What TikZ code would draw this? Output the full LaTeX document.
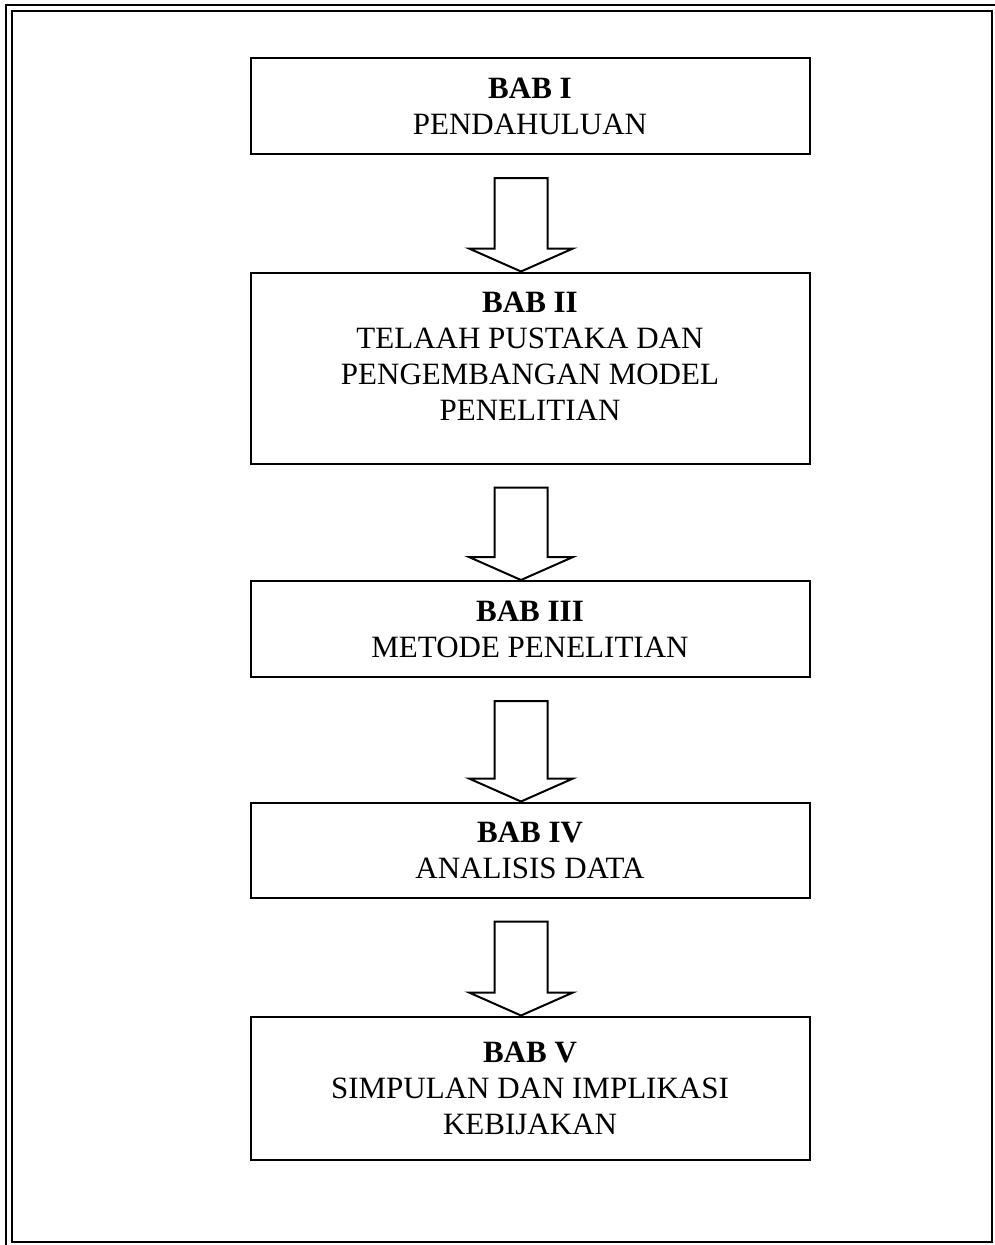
\documentclass[tikz,border=0pt]{standalone}
\usepackage{fontspec}
\setmainfont{Liberation Serif}
\begin{document}
\begin{tikzpicture}[x=1pt,y=-1pt]
		% gaya
		\tikzset{bab/.style={rectangle,draw,line width=2pt,minimum width=559pt,inner sep=0pt,align=center,font=\fontsize{31}{36}\selectfont}}
		\tikzset{panah/.style={draw,line width=2pt,line join=miter,fill=white}}
		\useasboundingbox (0,0) rectangle (995,1245);
		% bingkai
		\draw[line width=2pt] (12,11) rectangle (992,1242);
		\draw[line width=2pt] (6,1245) -- (6,5) -- (995,5);
		% kotak bab
		\node[bab,minimum height=96pt] (bab1) at (530,106) {\textbf{BAB I}\\PENDAHULUAN};
		\node[bab,minimum height=191pt] (bab2) at (530,368) {\textbf{BAB II}\\TELAAH PUSTAKA DAN\\PENGEMBANGAN MODEL\\PENELITIAN\\[-13pt]\mbox{}};
		\node[bab,minimum height=96pt] (bab3) at (530,629) {\textbf{BAB III}\\METODE PENELITIAN};
		\node[bab,minimum height=95pt] (bab4) at (530,850) {\textbf{BAB IV}\\ANALISIS DATA};
		\node[bab,minimum height=143pt] (bab5) at (530,1088) {\textbf{BAB V}\\SIMPULAN DAN IMPLIKASI\\KEBIJAKAN};
		% panah
		\draw[panah] ([xshift=-9pt]bab2.north) -- ++(-52,-23) -- ++(25.5,0) -- ([xshift=-35.5pt,yshift=-23pt]bab1.south) -- ++(53,0) -- ([xshift=17.5pt,yshift=23pt]bab2.north) -- ++(25.5,0) -- cycle;
		\draw[panah] ([xshift=-9pt]bab3.north) -- ++(-52,-23) -- ++(25.5,0) -- ([xshift=-35.5pt,yshift=-23pt]bab2.south) -- ++(53,0) -- ([xshift=17.5pt,yshift=23pt]bab3.north) -- ++(25.5,0) -- cycle;
		\draw[panah] ([xshift=-9pt]bab4.north) -- ++(-52,-23) -- ++(25.5,0) -- ([xshift=-35.5pt,yshift=-23pt]bab3.south) -- ++(53,0) -- ([xshift=17.5pt,yshift=23pt]bab4.north) -- ++(25.5,0) -- cycle;
		\draw[panah] ([xshift=-9pt]bab5.north) -- ++(-52,-23) -- ++(25.5,0) -- ([xshift=-35.5pt,yshift=-23pt]bab4.south) -- ++(53,0) -- ([xshift=17.5pt,yshift=23pt]bab5.north) -- ++(25.5,0) -- cycle;
\end{tikzpicture}
\end{document}
